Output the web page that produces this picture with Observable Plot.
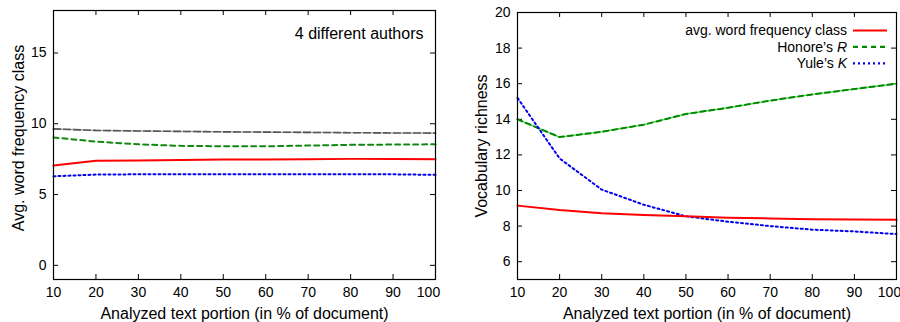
<!DOCTYPE html>
<html><head><meta charset="utf-8">
<script src="https://cdn.jsdelivr.net/npm/d3@7"></script>
<script src="https://cdn.jsdelivr.net/npm/@observablehq/plot@0.6"></script>
<style>
body{margin:0;background:#fff;}
#wrap{display:flex;width:900px;height:322px;overflow:hidden;}
#wrap svg{font-family:"Liberation Sans",Arial,Helvetica,sans-serif;display:block;}
</style></head><body><div id="wrap"></div>
<script>
// ---------- data ----------
const portions = [10, 20, 30, 40, 50, 60, 70, 80, 90, 100];
const xTicks = [10, 20, 30, 40, 50, 60, 70, 80, 90, 100];
const leftYTicks = [0, 5, 10, 15];
const rightYTicks = [6, 8, 10, 12, 14, 16, 18, 20];

// left panel: avg. word frequency class for 4 different authors
const authorGray  = [9.64, 9.53, 9.49, 9.46, 9.43, 9.41, 9.39, 9.37, 9.35, 9.34];
const authorGreen = [9.03, 8.74, 8.55, 8.44, 8.41, 8.41, 8.46, 8.51, 8.53, 8.55];
const authorRed   = [7.05, 7.38, 7.40, 7.44, 7.47, 7.47, 7.49, 7.52, 7.51, 7.49];
const authorBlue  = [6.29, 6.41, 6.43, 6.43, 6.43, 6.43, 6.43, 6.43, 6.43, 6.39];

// right panel: vocabulary richness measures
const avgWordFreqClass = [9.15, 8.90, 8.72, 8.62, 8.55, 8.47, 8.43, 8.39, 8.37, 8.35];
const honoresR         = [14.0, 13.0, 13.3, 13.7, 14.3, 14.65, 15.05, 15.4, 15.7, 16.0];
const yulesK           = [15.2, 11.8, 10.05, 9.2, 8.55, 8.25, 8.0, 7.8, 7.7, 7.55];

const legendLabels = [["avg. word frequency class", ""], ["Honore\u2019s ", "R"], ["Yule\u2019s ", "K"]];
const annotation = "4 different authors";
const xTitle = "Analyzed text portion (in % of document)";
const leftYTitle = "Avg. word frequency class";
const rightYTitle = "Vocabulary richness";

// ---------- helpers ----------
const toRows = (vals) => portions.map((p, i) => ({x: p, y: vals[i]}));
const FONT = "'Liberation Sans', Arial, Helvetica, sans-serif";
const TL = 5; // tick length (px)
const DOT = "2,3";
const xTicksInner = xTicks.slice(0, -1);
const xTickLast = xTicks.slice(-1);

function gnuplotTicks(fw, fh, yt) {
  return [
    Plot.tickX(xTicks, {x: d => d, insetTop: fh - TL, stroke: "#000"}),
    Plot.tickX(xTicks, {x: d => d, insetBottom: fh - TL, stroke: "#000"}),
    Plot.tickY(yt, {y: d => d, insetRight: fw - TL, stroke: "#000"}),
    Plot.tickY(yt, {y: d => d, insetLeft: fw - TL, stroke: "#000"})
  ];
}
function xAxes() {
  return [
    Plot.axisX({ticks: xTicksInner, tickSize: 0, tickPadding: 8, label: null, fontSize: 14}),
    Plot.axisX({ticks: xTickLast, tickSize: 0, tickPadding: 8, label: null, fontSize: 14, dx: -7})
  ];
}

// ---------- left panel ----------
{
  const W = 450, H = 322, mL = 53, mR = 15, mT = 10, mB = 43;
  const fw = W - mL - mR, fh = H - mT - mB;
  const chart = Plot.plot({
    width: W, height: H, marginLeft: mL, marginRight: mR, marginTop: mT, marginBottom: mB,
    style: {fontFamily: FONT, fontSize: "14px", color: "#000", background: "#fff", overflow: "hidden"},
    x: {domain: [10, 100]},
    y: {domain: [-1, 18]},
    marks: [
      ...xAxes(),
      Plot.axisY({ticks: leftYTicks, tickSize: 0, tickPadding: 7, label: null, fontSize: 14}),
      ...gnuplotTicks(fw, fh, leftYTicks),
      Plot.line(toRows(authorGray), {x: "x", y: "y", stroke: "#c8c8c8", strokeWidth: 1.6}),
      Plot.line(toRows(authorGray), {x: "x", y: "y", stroke: "#555", strokeWidth: 1.6, strokeDasharray: "7,3"}),
      Plot.line(toRows(authorGreen), {x: "x", y: "y", stroke: "#118811", strokeWidth: 2, strokeDasharray: "5,4"}),
      Plot.line(toRows(authorRed), {x: "x", y: "y", stroke: "#ff0000", strokeWidth: 2}),
      Plot.line(toRows(authorBlue), {x: "x", y: "y", stroke: "#0000ee", strokeWidth: 2, strokeDasharray: DOT}),
      Plot.frame({stroke: "#000", strokeWidth: 1.2}),
      Plot.text([annotation], {frameAnchor: "top-right", textAnchor: "end", lineAnchor: "middle", dx: -12, dy: 23, fontSize: 16, fill: "#000"}),
      Plot.text([xTitle], {frameAnchor: "bottom", textAnchor: "middle", lineAnchor: "middle", dy: 34, fontSize: 16, fill: "#000"}),
      Plot.text([leftYTitle], {frameAnchor: "left", textAnchor: "middle", lineAnchor: "middle", rotate: -90, dx: -35, dy: -7, fontSize: 16, fill: "#000"})
    ]
  });
  document.getElementById("wrap").append(chart);
}

// ---------- right panel ----------
{
  const W = 450, H = 322, mL = 67, mR = 4, mT = 12, mB = 43;
  const fw = W - mL - mR, fh = H - mT - mB;
  const legendStyles = [
    {stroke: "#ff0000", dash: null},
    {stroke: "#008800", dash: "5,4"},
    {stroke: "#0000ee", dash: DOT}
  ];
  const legendMark = (index, scales, values, dims) => {
    const g = d3.create("svg:g");
    const xr = dims.width - dims.marginRight;
    legendLabels.forEach((lab, i) => {
      const y = dims.marginTop + 18.5 + i * 16.4;
      const s = legendStyles[i];
      g.append("line").attr("x1", xr - 43).attr("x2", xr - 9).attr("y1", y).attr("y2", y)
        .attr("stroke", s.stroke).attr("stroke-width", 2.2)
        .attr("stroke-dasharray", s.dash);
      const t = g.append("text").attr("x", xr - 49).attr("y", y).attr("dy", "0.35em")
        .attr("text-anchor", "end").attr("font-size", 14).attr("fill", "#000");
      t.append("tspan").text(lab[0]);
      if (lab[1]) t.append("tspan").attr("font-style", "italic").text(lab[1]);
    });
    return g.node();
  };
  const chart = Plot.plot({
    width: W, height: H, marginLeft: mL, marginRight: mR, marginTop: mT, marginBottom: mB,
    style: {fontFamily: FONT, fontSize: "14px", color: "#000", background: "#fff", overflow: "hidden"},
    x: {domain: [10, 100]},
    y: {domain: [5, 20]},
    marks: [
      ...xAxes(),
      Plot.axisY({ticks: rightYTicks, tickSize: 0, tickPadding: 7, label: null, fontSize: 14}),
      ...gnuplotTicks(fw, fh, rightYTicks),
      Plot.line(toRows(honoresR), {x: "x", y: "y", stroke: "#55dd55", strokeWidth: 1.4}),
      Plot.line(toRows(honoresR), {x: "x", y: "y", stroke: "#008800", strokeWidth: 2, strokeDasharray: "5,4"}),
      Plot.line(toRows(yulesK), {x: "x", y: "y", stroke: "#0000ee", strokeWidth: 2, strokeDasharray: DOT}),
      Plot.line(toRows(avgWordFreqClass), {x: "x", y: "y", stroke: "#ff0000", strokeWidth: 2}),
      Plot.frame({stroke: "#000", strokeWidth: 1.2}),
      legendMark,
      Plot.text([xTitle], {frameAnchor: "bottom", textAnchor: "middle", lineAnchor: "middle", dy: 34, fontSize: 16, fill: "#000"}),
      Plot.text([rightYTitle], {frameAnchor: "left", textAnchor: "middle", lineAnchor: "middle", rotate: -90, dx: -36, dy: 0, fontSize: 16, fill: "#000"})
    ]
  });
  document.getElementById("wrap").append(chart);
}
</script>
</body></html>
